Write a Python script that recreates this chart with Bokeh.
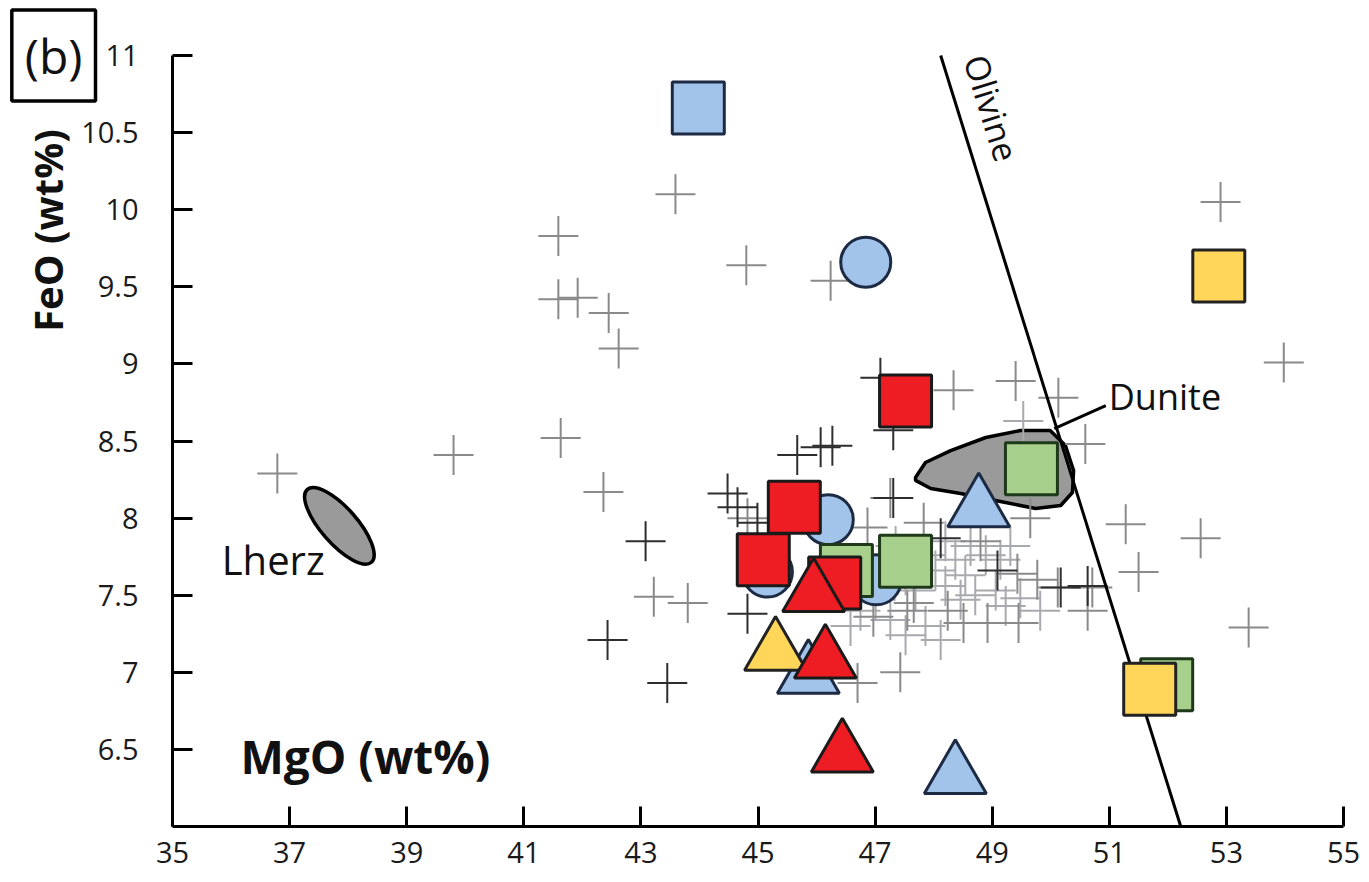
import math
from bokeh.plotting import figure
from bokeh.models import Label, FixedTicker, Range1d, LinearAxis
from bokeh.embed import file_html
from bokeh.resources import INLINE

FONT = "Open Sans"

# ---------------- data ----------------
xticks = [35, 37, 39, 41, 43, 45, 47, 49, 51, 53, 55]
xtick_labels = ["35", "37", "39", "41", "43", "45", "47", "49", "51", "53", "55"]
yticks = [6.5, 7.0, 7.5, 8.0, 8.5, 9.0, 9.5, 10.0, 10.5, 11.0]
ytick_labels = ["6.5", "7", "7.5", "8", "8.5", "9", "9.5", "10", "10.5", "11"]

# literature data (crosses)
gray_x = [36.79, 39.80, 41.63, 42.36, 43.22, 43.80, 43.59, 41.59, 41.59, 41.92,
          42.45, 42.62, 44.80, 46.24, 52.90, 53.98, 48.34, 49.40, 50.13, 50.59,
          51.28, 52.56, 51.50, 53.38, 49.45, 50.71, 50.12, 50.63, 47.43, 46.70,
          47.83, 48.80, 49.43, 49.77, 47.66, 48.24, 48.51, 48.92, 49.65, 46.97,
          47.55, 46.87, 47.26, 44.82]
gray_y = [8.29, 8.41, 8.52, 8.17, 7.49, 7.45, 10.10, 9.83, 9.42, 9.43,
          9.33, 9.10, 9.64, 9.54, 10.05, 9.01, 8.83, 8.89, 8.78, 8.48,
          7.96, 7.87, 7.65, 7.29, 7.32, 7.55, 7.55, 7.40, 7.00, 6.93,
          7.97, 7.85, 7.64, 7.60, 7.45, 7.40, 7.32, 7.32, 8.00, 7.36,
          7.40, 7.94, 8.13, 8.00]
light_x = [47.35, 47.52, 47.69, 47.86, 48.03, 48.20, 48.37, 48.54, 48.71, 48.89,
           49.06, 49.23, 47.26, 47.52, 47.86, 48.12, 48.46, 47.01, 46.75, 46.58,
           47.09, 49.14, 49.48, 49.82, 49.31, 49.53, 48.20, 48.63]
light_y = [7.82, 7.63, 7.53, 7.76, 7.66, 7.56, 7.73, 7.63, 7.50, 7.76,
           7.53, 7.43, 7.34, 7.24, 7.30, 7.21, 7.47, 7.47, 7.40, 7.30,
           7.73, 7.73, 7.48, 7.40, 7.82, 8.63, 7.85, 7.82]
dark_x = [43.08, 42.43, 43.45, 44.48, 44.65, 44.99, 44.82, 45.67, 46.07, 46.27,
          47.09, 47.31, 47.31, 48.12, 49.09, 50.17, 50.63]
dark_y = [7.85, 7.21, 6.93, 8.16, 8.07, 7.97, 7.38, 8.41, 8.46, 8.47,
          8.91, 8.57, 8.13, 7.87, 7.66, 7.55, 7.56]

# samples
blue_circle_x = [46.84, 46.20, 45.16, 47.02]
blue_circle_y = [9.66, 7.99, 7.65, 7.60]
blue_square_x = [43.98]
blue_square_y = [10.66]
blue_tri_x = [48.77, 45.86, 48.37]
blue_tri_y = [8.06, 6.98, 6.33]
green_square_x = [49.67, 47.52, 46.51, 51.98]
green_square_y = [8.32, 7.72, 7.66, 6.92]
yellow_square_x = [52.87, 51.69]
yellow_square_y = [9.57, 6.89]
yellow_tri_x = [45.30]
yellow_tri_y = [7.13]
red_square_x = [47.52, 45.62, 45.09, 46.31]
red_square_y = [8.76, 8.07, 7.73, 7.58]
red_tri_x = [45.95, 46.15, 46.44]
red_tri_y = [7.51, 7.08, 6.47]

# fields
dunite_x = [47.69, 47.86, 48.29, 48.89, 49.48, 49.99, 50.25, 50.39, 50.37, 50.17,
            49.74, 49.14, 48.46, 47.95, 47.69]
dunite_y = [8.263, 8.361, 8.438, 8.523, 8.568, 8.568, 8.471, 8.309, 8.166, 8.082,
            8.062, 8.108, 8.160, 8.192, 8.245]
lherz_x = [37.85]
lherz_y = [7.95]
olivine_x = [48.12, 52.22]
olivine_y = [11.0, 6.0]
dunite_leader_x = [50.06, 50.94]
dunite_leader_y = [8.58, 8.73]

# ---------------- figure ----------------
# the frame covers the whole canvas; axes are pinned at MgO=35 and FeO=6
p = figure(width=1369, height=882,
           x_range=Range1d(32.062, 55.444), y_range=Range1d(5.637, 11.357),
           output_backend="svg", toolbar_location=None,
           x_axis_location=None, y_axis_location=None,
           min_border=0, min_border_left=0, min_border_right=0,
           min_border_top=0, min_border_bottom=0)
p.grid.visible = False
p.outline_line_color = None
p.background_fill_color = "white"


def style_axis(ax):
    ax.axis_line_width = 3
    ax.axis_line_color = "black"
    ax.major_tick_line_width = 3
    ax.major_tick_line_color = "black"
    ax.major_tick_in = 20
    ax.major_tick_out = 0
    ax.minor_tick_line_color = None
    ax.major_label_text_font = FONT
    ax.major_label_text_font_size = "29px"
    ax.major_label_text_color = "#1a1a1a"


# y axis: line + ticks at MgO = 35
yax = LinearAxis(fixed_location=35, bounds=(6, 11), ticker=FixedTicker(ticks=yticks))
style_axis(yax)
yax.major_label_overrides = {t: "" for t in yticks}
yax.major_label_text_color = None
# y tick labels, set a little further left
ylab = LinearAxis(fixed_location=34.42, bounds=(6, 11), ticker=FixedTicker(ticks=yticks))
style_axis(ylab)
ylab.axis_line_color = None
ylab.major_tick_line_color = None
ylab.major_tick_in = 0
ylab.major_label_standoff = 0
ylab.major_label_overrides = dict(zip(yticks, ytick_labels))

xax = LinearAxis(fixed_location=6, bounds=(35, 55), ticker=FixedTicker(ticks=xticks))
style_axis(xax)
xax.major_label_overrides = dict(zip(xticks, xtick_labels))
xax.major_label_standoff = 15

p.add_layout(ylab, "left")
p.add_layout(yax, "left")
p.add_layout(xax, "below")

# fields
p.patch(dunite_x, dunite_y, fill_color="#9a9a9a", line_color="black", line_width=3.5)
p.ellipse(x=lherz_x, y=lherz_y, width=97, height=36, angle=-0.85,
          width_units="screen", height_units="screen",
          fill_color="#9a9a9a", line_color="black", line_width=3.5)

# crosses
p.scatter(light_x, light_y, marker="cross", size=40, line_color="#a9a9b0", line_width=2)
p.scatter(gray_x, gray_y, marker="cross", size=40, line_color="#8a8a8a", line_width=2)
p.scatter(dark_x, dark_y, marker="cross", size=40, line_color="#2e2e2e", line_width=2)

# olivine line
p.line(olivine_x, olivine_y, line_color="black", line_width=3)
p.line(dunite_leader_x, dunite_leader_y, line_color="black", line_width=3)

BLUE, BLUE_L = "#a3c4ea", "#1c2a44"
GREEN, GREEN_L = "#a8d08d", "#1f3a1a"
YELLOW, RED = "#ffd55a", "#ee1c23"
SQ, CI, TR = 52, 50, 62

p.scatter(blue_circle_x, blue_circle_y, marker="circle", size=CI, fill_color=BLUE, line_color=BLUE_L, line_width=3)
p.scatter(blue_square_x, blue_square_y, marker="square", size=SQ, fill_color=BLUE, line_color=BLUE_L, line_width=3)
p.scatter(blue_tri_x, blue_tri_y, marker="triangle", size=TR, fill_color=BLUE, line_color=BLUE_L, line_width=3)
p.scatter(green_square_x, green_square_y, marker="square", size=SQ, fill_color=GREEN, line_color=GREEN_L, line_width=3)
p.scatter(yellow_square_x, yellow_square_y, marker="square", size=SQ, fill_color=YELLOW, line_color="#222", line_width=3)
p.scatter(yellow_tri_x, yellow_tri_y, marker="triangle", size=TR, fill_color=YELLOW, line_color="#222", line_width=3)
p.scatter(red_square_x, red_square_y, marker="square", size=SQ, fill_color=RED, line_color="#1a1a1a", line_width=3)
p.scatter(red_tri_x, red_tri_y, marker="triangle", size=TR, fill_color=RED, line_color="#1a1a1a", line_width=3)

# texts
p.add_layout(Label(x=48.99, y=10.66, text="Olivine", angle=-1.27, text_align="center",
                   text_baseline="middle", text_font=FONT, text_font_size="34px", text_color="#111"))
p.add_layout(Label(x=50.99, y=8.79, text="Dunite", text_align="left", text_baseline="middle",
                   text_font=FONT, text_font_size="36px", text_color="#111"))
p.add_layout(Label(x=36.72, y=7.73, text="Lherz", text_align="center", text_baseline="middle",
                   text_font=FONT, text_font_size="40px", text_color="#111"))
p.add_layout(Label(x=36.16, y=6.46, text="MgO (wt%)", text_align="left", text_baseline="middle",
                   text_font=FONT, text_font_size="46px", text_font_style="bold", text_color="#111"))
p.add_layout(Label(x=32.865, y=9.865, text="FeO (wt%)", angle=math.pi / 2, text_align="center",
                   text_baseline="middle", text_font=FONT, text_font_size="40px",
                   text_font_style="bold", text_color="#111"))
p.add_layout(Label(x=32.97, y=11.0, text="(b)", text_align="center", text_baseline="middle",
                   text_font=FONT, text_font_size="48px", text_color="#111",
                   border_line_color="black", border_line_width=3.5, padding=13))

open("out.html", "w").write(file_html(p, INLINE))
